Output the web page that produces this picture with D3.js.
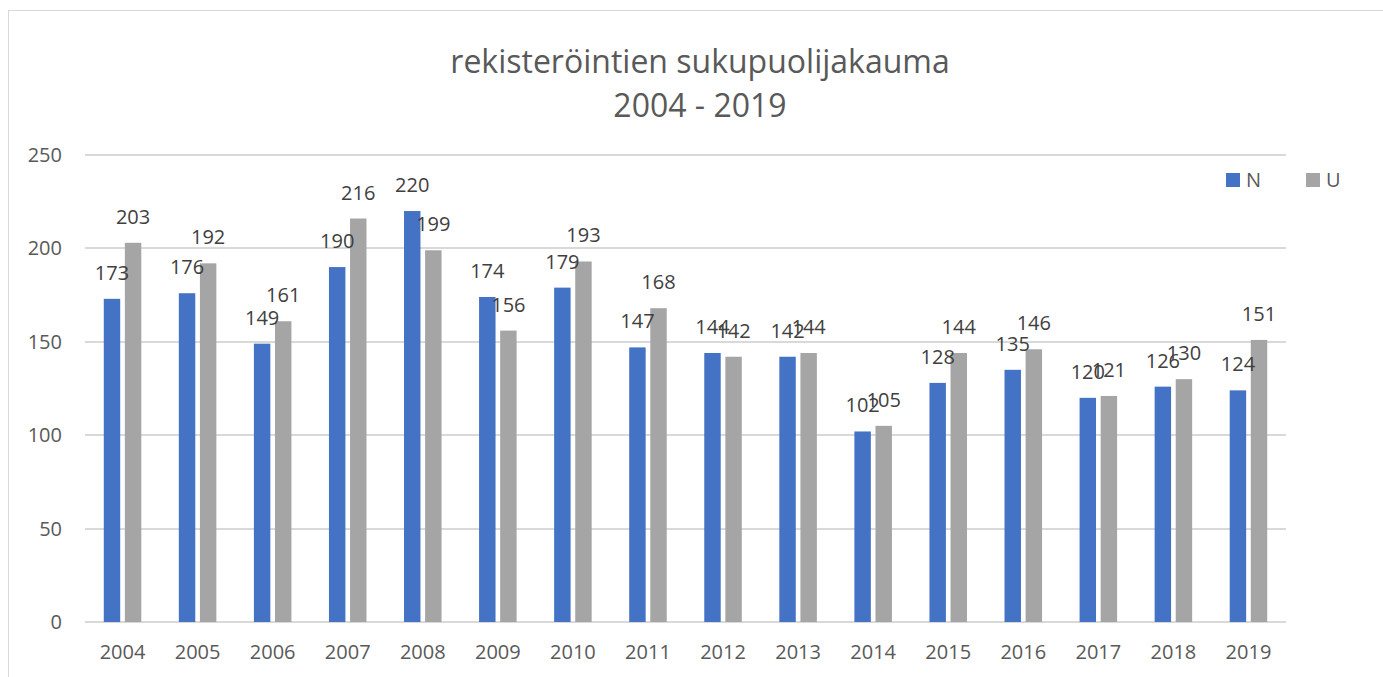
<!DOCTYPE html>
<html>
<head>
<meta charset="utf-8">
<script src="https://cdn.jsdelivr.net/npm/d3@7"></script>
<style>
  body { margin: 0; background: #fff; }
  svg { display: block; font-family: "Open Sans", sans-serif; }
</style>
</head>
<body>
<div id="chart"></div>
<script>
var w = 1383;
var h = 677;

// data
var years = ["2004", "2005", "2006", "2007", "2008", "2009", "2010", "2011",
             "2012", "2013", "2014", "2015", "2016", "2017", "2018", "2019"];
var seriesNames = ["N", "U"];
var valuesN = [173, 176, 149, 190, 220, 174, 179, 147, 144, 142, 102, 128, 135, 120, 126, 124];
var valuesU = [203, 192, 161, 216, 199, 156, 193, 168, 142, 144, 105, 144, 146, 121, 130, 151];
var yTicks = [0, 50, 100, 150, 200, 250];
var titleLines = ["rekisteröintien sukupuolijakauma", "2004 - 2019"];

var colors = { N: "#4472C4", U: "#A5A5A5" };

var rows = years.map(function(y, i) {
  return { year: y, N: valuesN[i], U: valuesU[i] };
});

var svg = d3.select("#chart").append("svg")
  .attr("width", w)
  .attr("height", h);

// chart area border (only left/top visible in the crop)
svg.append("rect")
  .attr("x", 8.5).attr("y", 10.5)
  .attr("width", 1500).attr("height", 800)
  .attr("fill", "none")
  .attr("stroke", "#d9d9d9");

// title
svg.append("text")
  .attr("text-anchor", "middle")
  .attr("fill", "#595959")
  .style("font-size", "32px")
  .selectAll("tspan")
  .data(titleLines)
  .enter().append("tspan")
  .attr("x", 700)
  .attr("y", function(d, i) { return 73 + i * 44; })
  .text(function(d) { return d; });

var plotLeft = 85, plotRight = 1286, plotTop = 155, plotBottom = 622;

var x0 = d3.scaleBand()
  .domain(years)
  .range([plotLeft, plotRight])
  .paddingInner(0.5)
  .paddingOuter(0.25);

var x1 = d3.scaleBand()
  .domain(seriesNames)
  .range([0, x0.bandwidth()])
  .paddingInner(0.22);

var y = d3.scaleLinear()
  .domain([0, 250])
  .range([plotBottom, plotTop]);

// gridlines
svg.append("g")
  .selectAll("line")
  .data(yTicks)
  .enter().append("line")
  .attr("x1", plotLeft).attr("x2", plotRight)
  .attr("y1", function(d) { return Math.round(y(d)); })
  .attr("y2", function(d) { return Math.round(y(d)); })
  .attr("stroke", "#d9d9d9")
  .attr("stroke-width", 2);

// y axis labels
var yAxis = d3.axisLeft(y).tickValues(yTicks).tickSize(0).tickPadding(0);
var gy = svg.append("g")
  .attr("transform", "translate(62,0)")
  .call(yAxis);
gy.select(".domain").remove();
gy.selectAll("text")
  .attr("fill", "#595959")
  .style("font-size", "20px")
  .style("font-family", "'Open Sans', sans-serif");

// x axis labels
var xAxis = d3.axisBottom(x0).tickSize(0).tickPadding(0);
var gx = svg.append("g")
  .attr("transform", "translate(0,645)")
  .call(xAxis);
gx.select(".domain").remove();
gx.selectAll("text")
  .attr("fill", "#595959")
  .style("font-size", "20px")
  .style("font-family", "'Open Sans', sans-serif");

// bars
var groups = svg.append("g")
  .selectAll("g")
  .data(rows)
  .enter().append("g")
  .attr("transform", function(d) { return "translate(" + x0(d.year) + ",0)"; });

groups.selectAll("rect")
  .data(function(d) { return seriesNames.map(function(k) { return { key: k, value: d[k] }; }); })
  .enter().append("rect")
  .attr("x", function(d) { return x1(d.key); })
  .attr("y", function(d) { return y(d.value); })
  .attr("width", x1.bandwidth())
  .attr("height", function(d) { return y(0) - y(d.value); })
  .attr("fill", function(d) { return colors[d.key]; });

// data labels
groups.selectAll("text")
  .data(function(d) { return seriesNames.map(function(k) { return { key: k, value: d[k] }; }); })
  .enter().append("text")
  .attr("x", function(d) { return x1(d.key) + x1.bandwidth() / 2; })
  .attr("y", function(d) { return y(d.value) - 19; })
  .attr("text-anchor", "middle")
  .attr("fill", "#404040")
  .style("font-size", "20px")
  .text(function(d) { return d.value; });

// legend
var legend = svg.append("g")
  .selectAll("g")
  .data(seriesNames)
  .enter().append("g")
  .attr("transform", function(d, i) { return "translate(" + (1226 + i * 80) + ",173)"; });

legend.append("rect")
  .attr("width", 14).attr("height", 14)
  .attr("fill", function(d) { return colors[d]; });

legend.append("text")
  .attr("x", 20).attr("y", 14)
  .attr("fill", "#595959")
  .style("font-size", "20px")
  .text(function(d) { return d; });
</script>
</body>
</html>
